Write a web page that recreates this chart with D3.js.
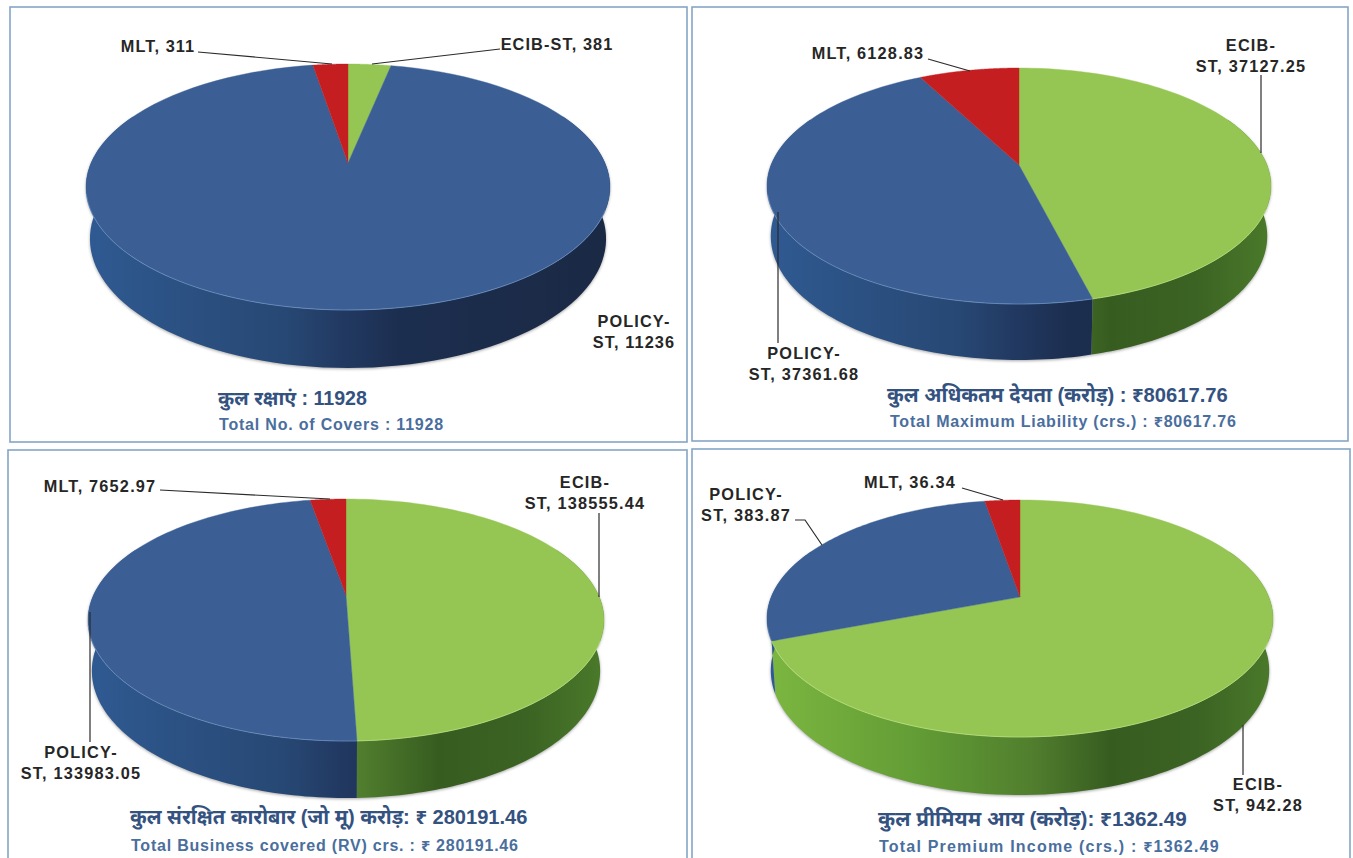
<!DOCTYPE html>
<html><head><meta charset="utf-8">
<script src="https://cdn.jsdelivr.net/npm/d3@7/dist/d3.min.js"></script>
<style>
html,body{margin:0;padding:0;background:#fff;overflow:hidden}
svg{display:block}
text{font-family:"Liberation Sans","Noto Sans Devanagari","Noto Sans",Arial,sans-serif;font-weight:bold}
</style></head><body>
<svg id="c" width="1353" height="858"></svg>
<script>
// ---- data ----
const seriesNames = ["ECIB-ST","POLICY-ST","MLT"];
const coversValues = [381,11236,311];
const liabilityValues = [37127.25,37361.68,6128.83];
const businessValues = [138555.44,133983.05,7652.97];
const premiumValues = [942.28,383.87,36.34];
const hindiTitles = ["कुल रक्षाएं : 11928","कुल अधिकतम देयता (करोड़) : ₹80617.76","कुल संरक्षित कारोबार (जो मू) करोड़: ₹ 280191.46","कुल प्रीमियम आय (करोड़): ₹1362.49"];
const englishTitles = ["Total No. of Covers : 11928","Total Maximum Liability (crs.) : ₹80617.76","Total Business covered (RV) crs. : ₹ 280191.46","Total Premium Income (crs.) : ₹1362.49"];

// ---- layout ----
const panels = [
 {box:[10,7,677,435],ax:348,ay:163,top:64,bot:310,left:86,right:610,wall:368,values:coversValues,
  hx:218,hy:405,hs:19.6,ex:219,ey:430,es:.8,
  labels:[[["ECIB-ST, 381"],557,50],[["POLICY-","ST, 11236"],634,327],[["MLT, 311"],158,52]],
  leaders:[[[500,49],[372,64]],[[198,52],[332,64]]]},
 {box:[692,7,656,434],ax:1019,ay:165,top:68,bot:304,left:767,right:1271,wall:360,values:liabilityValues,
  hx:887,hy:402,hs:20.2,ex:890,ey:427,es:.78,
  labels:[[["ECIB-","ST, 37127.25"],1251,51],[["POLICY-","ST, 37361.68"],804,359],[["MLT, 6128.83"],868,59]],
  leaders:[[[1261,75],[1261,153]],[[778,343],[778,212]],[[928,59],[970,71]]]},
 {box:[8,450,679,420],ax:346,ay:595,top:499,bot:741,left:88,right:604,wall:798,values:businessValues,
  hx:130,hy:824,hs:20.1,ex:131,ey:851,es:.78,
  labels:[[["ECIB-","ST, 138555.44"],585,488],[["POLICY-","ST, 133983.05"],81,758],[["MLT, 7652.97"],100,492]],
  leaders:[[[599,513],[599,597]],[[90,742],[90,612]],[[160,490],[330,499]]]},
 {box:[692,449,658,420],ax:1020,ay:597,top:500,bot:737,left:767,right:1273,wall:795,values:premiumValues,
  hx:878,hy:826,hs:20.7,ex:879,ey:852,es:1.2,
  labels:[[["ECIB-","ST, 942.28"],1258,790],[["POLICY-","ST, 383.87"],746,500],[["MLT, 36.34"],910,488]],
  leaders:[[[1243,725],[1243,775]],[[795,520],[805,520],[822,545]],[[962,488],[1003,500]]]}
];
const faceColors = d3.scaleOrdinal(seriesNames,["#95c653","#3b5f94","#c41e20"]);
const rimColors = d3.scaleOrdinal(seriesNames,["#b9e07e","#6f93c2","#d94a48"]);
const wallStops = {
 "ECIB-ST":[[0,"#7cb741"],[.3,"#629c35"],[.52,"#517f2e"],[.68,"#375c20"],[.85,"#3b6323"],[1,"#4a7a2a"]],
 "POLICY-ST":[[0,"#2f5a92"],[.2,"#2b5081"],[.38,"#274874"],[.5,"#213860"],[.6,"#1c2e4f"],[1,"#1a2944"]],
 "MLT":[[0,"#a01a1c"],[1,"#5e1012"]]
};

const svg = d3.select("#c");
const defs = svg.append("defs");
const line = d3.line();
const pie = d3.pie().sort(null).value(d=>d.value).startAngle(0).endAngle(2*Math.PI);

panels.forEach((p,pi)=>{
  const g = svg.append("g");
  g.append("rect").attr("x",p.box[0]).attr("y",p.box[1]).attr("width",p.box[2]).attr("height",p.box[3])
    .attr("fill","#fff").attr("stroke","#86a5c6").attr("stroke-width",1.6);

  // perspective projection of the pie's disc
  const upper=p.ay-p.top, lower=p.bot-p.ay;
  const k=(lower-upper)/(lower+upper), Q=upper*(1+k), R=(p.right-p.left)/2*Math.sqrt(1-k*k);
  const Rb=R*.985, Qb=Q*1.05, dz=p.wall-p.ay-Qb/(1-k);
  const topPt=t=>{const v=-Math.cos(t),u=Math.sin(t),d=1-k*v;return [p.ax+R*u/d,p.ay+Q*v/d];};
  const botPt=t=>{const v=-Math.cos(t),u=Math.sin(t),d=1-k*v;return [p.ax+Rb*u/d,p.ay+dz+Qb*v/d];};
  const sweep=(a,b)=>d3.range(0,101).map(i=>a+(b-a)*i/100);

  const arcs=pie(seriesNames.map((name,i)=>({name,value:p.values[i]})));

  seriesNames.forEach((n,i)=>{
    const id=`w${pi}${i}`;
    const lg=defs.append("linearGradient").attr("id",id).attr("gradientUnits","userSpaceOnUse")
      .attr("x1",p.left).attr("x2",p.right).attr("y1",0).attr("y2",0);
    wallStops[n].forEach(s=>lg.append("stop").attr("offset",s[0]).attr("stop-color",s[1]));
  });

  const lo=Math.PI*.36, hi=Math.PI*1.64;
  g.append("g").style("filter","drop-shadow(0px 1.5px 1.5px rgba(0,0,0,.35))")
    .selectAll("path.wall").data(arcs).join("path").attr("class","wall")
    .attr("fill",(d,i)=>`url(#w${pi}${i})`)
    .attr("d",d=>{
      const a=Math.max(d.startAngle,lo), b=Math.min(d.endAngle,hi);
      if(b<=a) return null;
      const s=sweep(a,b);
      return line(s.map(topPt).concat(s.slice().reverse().map(botPt)))+"Z";
    });

  g.selectAll("path.face").data(arcs).join("path").attr("class","face")
    .attr("fill",d=>faceColors(d.data.name))
    .attr("stroke",d=>faceColors(d.data.name)).attr("stroke-width",.4)
    .attr("d",d=>line([[p.ax,p.ay]].concat(sweep(d.startAngle,d.endAngle).map(topPt)))+"Z");

  const rimLo=Math.PI*.62, rimHi=Math.PI*1.42;
  g.selectAll("path.rim").data(arcs).join("path").attr("class","rim")
    .attr("fill","none").attr("stroke",d=>rimColors(d.data.name)).attr("stroke-width",1).attr("opacity",.7)
    .attr("d",d=>{
      const a=Math.max(d.startAngle,rimLo), b=Math.min(d.endAngle,rimHi);
      return b>a?line(sweep(a,b).map(topPt)):null;
    });

  g.selectAll("path.leader").data(p.leaders).join("path").attr("class","leader")
    .attr("fill","none").attr("stroke","#2b2b2b").attr("stroke-width",1.2)
    .attr("d",d=>line(d));

  p.labels.forEach(l=>{
    const t=g.append("text").attr("text-anchor","middle").attr("fill","#262626")
      .attr("font-size",16.3).attr("letter-spacing",pi===0?1.1:1.2);
    l[0].forEach((s,i)=>t.append("tspan").attr("x",l[1]).attr("y",l[2]+i*20.7).text(s));
  });

  g.append("text").attr("x",p.hx).attr("y",p.hy).attr("font-size",p.hs).attr("fill","#34527f").text(hindiTitles[pi]);
  g.append("text").attr("x",p.ex).attr("y",p.ey).attr("font-size",16).attr("letter-spacing",p.es).attr("fill","#4a6e9d").text(englishTitles[pi]);
});
</script>
</body></html>
